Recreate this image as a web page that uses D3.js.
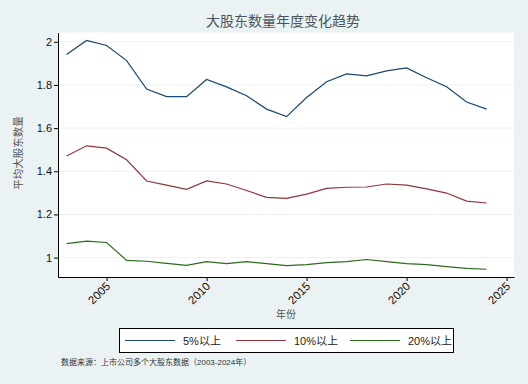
<!DOCTYPE html>
<html>
<head>
<meta charset="utf-8">
<script src="https://cdn.jsdelivr.net/npm/d3@7"></script>
<style>
  body { margin: 0; background: #eaf2f3; }
  svg { display: block; font-family: "Liberation Sans", Arial, "Noto Sans CJK SC", sans-serif; }
  .cjk { font-family: "Noto Sans CJK SC", sans-serif; }
</style>
</head>
<body>
<svg width="528" height="384"></svg>
<script>
const years = d3.range(2003, 2025);
const pct5  = [1.941, 2.006, 1.983, 1.913, 1.781, 1.746, 1.746, 1.825, 1.791, 1.750, 1.688,
               1.653, 1.742, 1.815, 1.851, 1.842, 1.865, 1.879, 1.833, 1.792, 1.721, 1.688];
const pct10 = [1.471, 1.518, 1.507, 1.453, 1.355, 1.336, 1.316, 1.355, 1.341, 1.311, 1.279,
               1.274, 1.294, 1.321, 1.326, 1.327, 1.341, 1.336, 1.318, 1.299, 1.262, 1.253];
const pct20 = [1.065, 1.076, 1.070, 0.987, 0.983, 0.973, 0.964, 0.981, 0.972, 0.981, 0.972,
               0.963, 0.967, 0.977, 0.981, 0.991, 0.981, 0.972, 0.967, 0.958, 0.950, 0.946];
const seriesNames = ["5%以上", "10%以上", "20%以上"];
const colors = ["#1a476f", "#90353b", "#2a6a1a"];
const xTicks = [2005, 2010, 2015, 2020, 2025];
const yTicks = [1, 1.2, 1.4, 1.6, 1.8, 2];

const svg = d3.select("svg");
const pLeft = 58, pRight = 514, pTop = 32.5, pBottom = 277;

const x = d3.scaleLinear().domain([2002.57, 2025.37]).range([pLeft, pRight]);
const y = d3.scaleLinear().domain([0.91, 2.043]).range([pBottom, pTop]);

// plot region
svg.append("rect").attr("x", pLeft).attr("y", pTop)
   .attr("width", pRight - pLeft).attr("height", pBottom - pTop).attr("fill", "#fff");

svg.append("g").selectAll("line").data(yTicks).enter().append("line")
   .attr("x1", pLeft).attr("x2", pRight)
   .attr("y1", d => y(d)).attr("y2", d => y(d))
   .attr("stroke", "#eaf2f3").attr("stroke-width", 1);

// lines
const allSeries = [pct5, pct10, pct20];
const line = d3.line().x((d, i) => x(years[i])).y(d => y(d));
allSeries.forEach((s, k) => {
  svg.append("path").datum(s).attr("d", line)
     .attr("fill", "none").attr("stroke", colors[k]).attr("stroke-width", 1.2);
});

// axes
const yAxis = svg.append("g").attr("transform", `translate(${pLeft},0)`)
   .call(d3.axisLeft(y).tickValues(yTicks).tickSize(4).tickSizeOuter(0).tickFormat(d3.format("~g")));
const xAxis = svg.append("g").attr("transform", `translate(0,${pBottom})`)
   .call(d3.axisBottom(x).tickValues(xTicks).tickSize(4).tickSizeOuter(0).tickFormat(d3.format("d")));
[xAxis, yAxis].forEach(a => {
  a.select(".domain").attr("stroke", "#000");
  a.selectAll(".tick line").attr("stroke", "#000");
  a.selectAll("text").attr("fill", "#111").style("font-size", "11px");
});
yAxis.selectAll("text").attr("x", -6);
xAxis.selectAll("text")
   .style("font-size", "11.5px")
   .attr("text-anchor", "end").attr("dy", "0.35em")
   .attr("transform", "translate(1,7) rotate(-45)")
   .attr("y", 0).attr("x", 0);

// titles
svg.append("text").attr("class", "cjk").attr("x", 283).attr("y", 26)
   .attr("text-anchor", "middle").attr("fill", "#4a5560").style("font-size", "14px")
   .text("大股东数量年度变化趋势");
svg.append("text").attr("class", "cjk").attr("x", 286).attr("y", 318)
   .attr("text-anchor", "middle").attr("fill", "#555").style("font-size", "10px")
   .text("年份");
svg.append("text").attr("class", "cjk")
   .attr("transform", "translate(22,153) rotate(-90)")
   .attr("text-anchor", "middle").attr("fill", "#555").style("font-size", "10.5px")
   .text("平均大股东数量");

// legend
const lg = svg.append("g");
lg.append("rect").attr("x", 119.5).attr("y", 328.5).attr("width", 334).attr("height", 24)
  .attr("fill", "#fff").attr("stroke", "#000");
const lx = [125, 236, 350];
seriesNames.forEach((n, k) => {
  lg.append("line").attr("x1", lx[k]).attr("x2", lx[k] + 50)
    .attr("y1", 340.5).attr("y2", 340.5).attr("stroke", colors[k]).attr("stroke-width", 1.2);
  lg.append("text").attr("x", lx[k] + 58).attr("y", 344.5)
    .attr("fill", "#222").style("font-size", "11px").text(n);
});

svg.append("text").attr("x", 61).attr("y", 365)
   .attr("fill", "#333").style("font-size", "8px")
   .text("数据来源：上市公司多个大股东数据（2003-2024年）");
</script>
</body>
</html>
